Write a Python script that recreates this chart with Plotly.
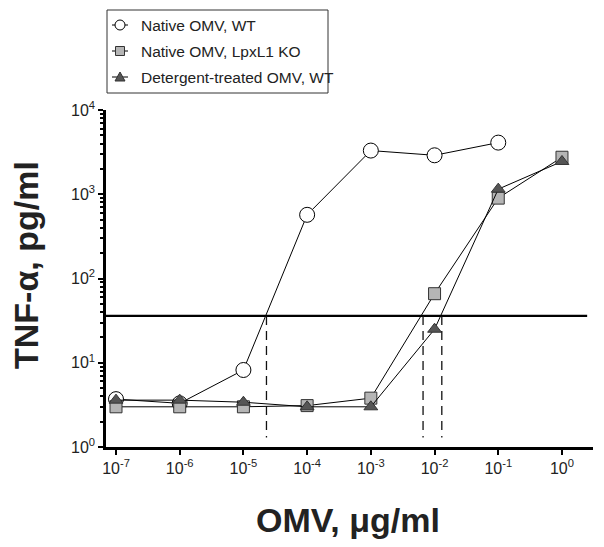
import plotly.graph_objects as go

# ---- data ----
conc = [1e-7, 1e-6, 1e-5, 1e-4, 1e-3, 1e-2, 1e-1, 1e0]
native_wt = [3.7, 3.3, 8.2, 570, 3300, 2900, 4100]            # up to 1e-1
native_lpxl1 = [3.0, 3.0, 3.0, 3.1, 3.8, 66, 900, 2750]
detergent_wt = [3.6, 3.6, 3.4, 3.0, 3.0, 25, 1150, 2450]
threshold = 36
ec_values = [2.3e-5, 6.6e-3, 1.3e-2]
dash_bottom = 1.3

series_names = ["Native OMV, WT", "Native OMV, LpxL1 KO", "Detergent-treated OMV, WT"]

x_tickvals = conc
x_ticktext = ["10<sup>-7</sup>", "10<sup>-6</sup>", "10<sup>-5</sup>", "10<sup>-4</sup>",
              "10<sup>-3</sup>", "10<sup>-2</sup>", "10<sup>-1</sup>", "10<sup>0</sup>"]
y_tickvals = [1, 10, 100, 1000, 10000]
y_ticktext = ["10<sup>0</sup>", "10<sup>1</sup>", "10<sup>2</sup>", "10<sup>3</sup>", "10<sup>4</sup>"]
y_minor = [m * 10 ** k for k in range(0, 4) for m in range(2, 10)]

FONT = "Liberation Sans, Arial, Helvetica, sans-serif"
TXT = "#222222"

# page body has an 8px margin -> shrink figure so the plot lands where the reference has it
PAGE_OFF = 8
PL, PT, PR, PB = 106, 110, 593, 447          # plot area on screen (px)
W, H = 604 - PAGE_OFF, 547 - PAGE_OFF


def px(x):
    return (x - PL) / (PR - PL)


def py(y):
    return (PB - y) / (PB - PT)


styles = [
    dict(symbol="circle", size=15, color="white", line=dict(color="black", width=1)),
    dict(symbol="square", size=12, color="#b5b5b5", line=dict(color="#333333", width=1)),
    dict(symbol="triangle-up", size=12, color="#555555", line=dict(color="#333333", width=1)),
]

fig = go.Figure()
for name, xs, ys, mk in zip(series_names,
                            [conc[:len(native_wt)], conc, conc],
                            [native_wt, native_lpxl1, detergent_wt], styles):
    fig.add_trace(go.Scatter(x=xs, y=ys, mode="lines+markers", name=name, showlegend=False,
                             line=dict(color="black", width=1), marker=mk))

shapes = [dict(type="line", xref="x domain", yref="y", x0=0, x1=0.988, y0=threshold, y1=threshold,
               line=dict(color="black", width=2.2))]
for ec in ec_values:
    shapes.append(dict(type="line", xref="x", yref="y", x0=ec, x1=ec,
                       y0=threshold, y1=dash_bottom,
                       line=dict(color="#111111", width=1.3, dash="9px,6px")))

# ---- hand-made legend (box, sample lines, symbols, labels) ----
shapes.append(dict(type="rect", xref="paper", yref="paper", x0=px(107), x1=px(328),
                   y0=py(93), y1=py(10), line=dict(color="#333333", width=1), fillcolor="white",
                   layer="above"))
item_y = [25, 51, 77]
annotations = []
for i, (name, yy) in enumerate(zip(series_names, item_y)):
    shapes.append(dict(type="line", xref="paper", yref="paper", x0=px(112), x1=px(128),
                       y0=py(yy), y1=py(yy), line=dict(color="black", width=1)))
    common = dict(xref="paper", yref="paper", xsizemode="pixel", ysizemode="pixel",
                  xanchor=px(120), yanchor=py(yy))
    if i == 0:
        shapes.append(dict(type="circle", x0=-5, x1=5, y0=-5, y1=5, fillcolor="white",
                           line=dict(color="black", width=1), **common))
    elif i == 1:
        shapes.append(dict(type="rect", x0=-4.5, x1=4.5, y0=-4.5, y1=4.5, fillcolor="#b5b5b5",
                           line=dict(color="#333333", width=1), **common))
    else:
        shapes.append(dict(type="path", path="M-5,-4 L5,-4 L0,5 Z", fillcolor="#555555",
                           line=dict(color="#333333", width=1), **common))
    annotations.append(dict(text=name, xref="paper", yref="paper", x=px(139), y=py(yy),
                            xanchor="left", yanchor="middle", showarrow=False,
                            font=dict(size=15.5, family=FONT, color=TXT)))

annotations += [
    dict(text="<b>OMV, μg/ml</b>", xref="paper", yref="paper", x=px(348), y=py(520),
         xanchor="center", yanchor="middle", showarrow=False,
         font=dict(size=34, family=FONT, color=TXT)),
    dict(text="<b>TNF-α, pg/ml</b>", xref="paper", yref="paper", x=px(26), y=py(265),
         xanchor="center", yanchor="middle", showarrow=False, textangle=-90,
         font=dict(size=34, family=FONT, color=TXT)),
]

fig.update_layout(
    width=W, height=H,
    margin=dict(l=PL - PAGE_OFF, r=604 - PR, t=PT - PAGE_OFF, b=547 - PB),
    paper_bgcolor="white", plot_bgcolor="white",
    font=dict(family=FONT, color=TXT, size=16),
    showlegend=False,
    shapes=shapes,
    annotations=annotations,
)

fig.update_xaxes(type="log", range=[-7.157, 0.487],
                 tickvals=x_tickvals, ticktext=x_ticktext,
                 ticks="outside", ticklen=5, tickwidth=2, tickcolor="black",
                 showline=True, linecolor="black", linewidth=2.5,
                 showgrid=False, zeroline=False,
                 tickfont=dict(size=16, color=TXT))
fig.update_yaxes(type="log", range=[0, 4.0],
                 tickvals=y_tickvals, ticktext=y_ticktext,
                 ticks="outside", ticklen=5, tickwidth=2, tickcolor="black",
                 minor=dict(tickvals=y_minor, ticks="outside", ticklen=3, tickwidth=1.5,
                            tickcolor="black", showgrid=False),
                 showline=True, linecolor="black", linewidth=2.5,
                 showgrid=False, zeroline=False,
                 tickfont=dict(size=16, color=TXT))

fig.write_html("out.html")
